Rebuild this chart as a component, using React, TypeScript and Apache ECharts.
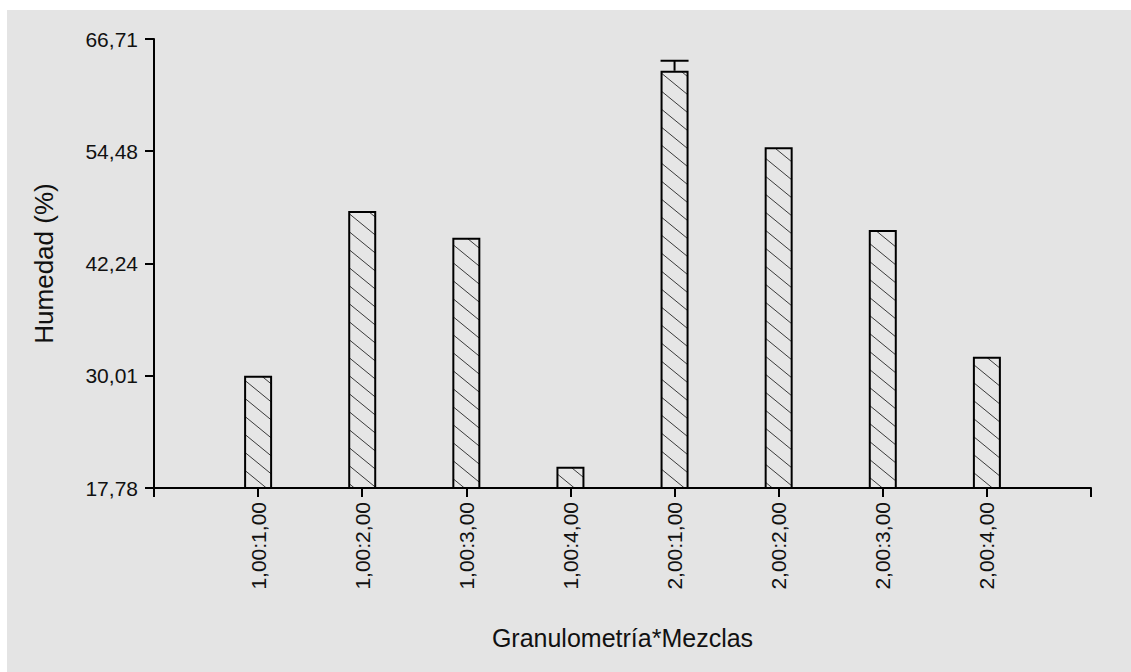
import React, { useEffect, useRef } from "react";
import * as echarts from "echarts";

const categories = [
  "1,00:1,00",
  "1,00:2,00",
  "1,00:3,00",
  "1,00:4,00",
  "2,00:1,00",
  "2,00:2,00",
  "2,00:3,00",
  "2,00:4,00",
];
const humedad = [30.0, 47.96, 45.05, 20.1, 63.25, 54.9, 45.89, 32.09];
const errorUpper: (number | null)[] = [null, null, null, null, 64.34, null, null, null];
const yTicks = [17.78, 30.01, 42.24, 54.48, 66.71];
const yMin = 17.78;
const yMax = 66.71;

const FONT = "'Liberation Sans', Arial, sans-serif";

function makeHatch(): HTMLCanvasElement {
  const W = 22;
  const H = 18;
  const c = document.createElement("canvas");
  c.width = W;
  c.height = H;
  const ctx = c.getContext("2d")!;
  ctx.fillStyle = "#e6e6e6";
  ctx.fillRect(0, 0, W, H);
  ctx.strokeStyle = "#3a3a3a";
  ctx.lineWidth = 1;
  for (const dx of [-W, 0, W]) {
    ctx.beginPath();
    ctx.moveTo(dx - W, -H);
    ctx.lineTo(dx + 2 * W, 2 * H);
    ctx.stroke();
  }
  return c;
}

export default function App() {
  const ref = useRef<HTMLDivElement>(null);
  useEffect(() => {
    if (!ref.current) return;
    const chart = echarts.init(ref.current, null, { renderer: "svg" });
    const hatch = makeHatch();
    const barData = humedad.map((v, i) => [i + 1, v]);
    const errData = errorUpper
      .map((e, i) => (e == null ? null : [i + 1, humedad[i], e]))
      .filter((d) => d != null);
    chart.setOption({
      animation: false,
      backgroundColor: "#e4e4e4",
      textStyle: { fontFamily: FONT },
      graphic: [
        { type: "rect", left: 0, top: 0, shape: { width: 1131, height: 10 }, style: { fill: "#ffffff" }, silent: true },
        { type: "rect", left: 0, top: 0, shape: { width: 7, height: 672 }, style: { fill: "#ffffff" }, silent: true },
      ],
      grid: { left: 154, right: 40, top: 39, bottom: 184, containLabel: false },
      xAxis: {
        type: "value",
        min: 0,
        max: 9,
        interval: 1,
        name: "Granulometría*Mezclas",
        nameLocation: "middle",
        nameGap: 137,
        nameTextStyle: { fontSize: 25, color: "#111", fontFamily: FONT },
        axisLine: { show: true, onZero: false, lineStyle: { color: "#000", width: 2 } },
        axisTick: { show: true, length: 9, lineStyle: { color: "#000", width: 2 } },
        splitLine: { show: false },
        axisLabel: {
          rotate: 90,
          margin: 14,
          fontSize: 21,
          color: "#111",
          fontFamily: FONT,
          formatter: (v: number) => categories[Math.round(v) - 1] ?? "",
        },
      },
      yAxis: {
        type: "value",
        min: yMin,
        max: yMax,
        name: "Humedad (%)",
        nameLocation: "middle",
        nameGap: 97,
        nameTextStyle: { fontSize: 26, color: "#111", fontFamily: FONT },
        axisLine: { show: true, lineStyle: { color: "#000", width: 2 } },
        axisTick: { show: true, length: 9, customValues: yTicks, lineStyle: { color: "#000", width: 2 } },
        splitLine: { show: false },
        axisLabel: {
          customValues: yTicks,
          margin: 16,
          fontSize: 21,
          color: "#111",
          fontFamily: FONT,
          formatter: (v: number) => v.toFixed(2).replace(".", ","),
        },
      },
      series: [
        {
          type: "bar",
          data: barData,
          barWidth: 28,
          clip: true,
          itemStyle: {
            color: { image: hatch, repeat: "repeat" },
            borderColor: "#000",
            borderWidth: 2,
          },
          z: 2,
        },
        {
          type: "custom",
          data: errData,
          encode: { x: 0, y: [1, 2] },
          z: 3,
          renderItem: (params: any, api: any) => {
            const x = api.value(0);
            const lo = api.coord([x, api.value(1)]);
            const hi = api.coord([x, api.value(2)]);
            const half = 14;
            return {
              type: "group",
              children: [
                { type: "line", shape: { x1: lo[0], y1: lo[1], x2: hi[0], y2: hi[1] }, style: { stroke: "#000", lineWidth: 2 } },
                { type: "line", shape: { x1: hi[0] - half, y1: hi[1], x2: hi[0] + half, y2: hi[1] }, style: { stroke: "#000", lineWidth: 2 } },
              ],
            };
          },
        },
      ],
    });
    return () => chart.dispose();
  }, []);
  return (
    <div
      ref={ref}
      style={{ position: "fixed", left: 0, top: 0, width: 1131, height: 672 }}
    />
  );
}
